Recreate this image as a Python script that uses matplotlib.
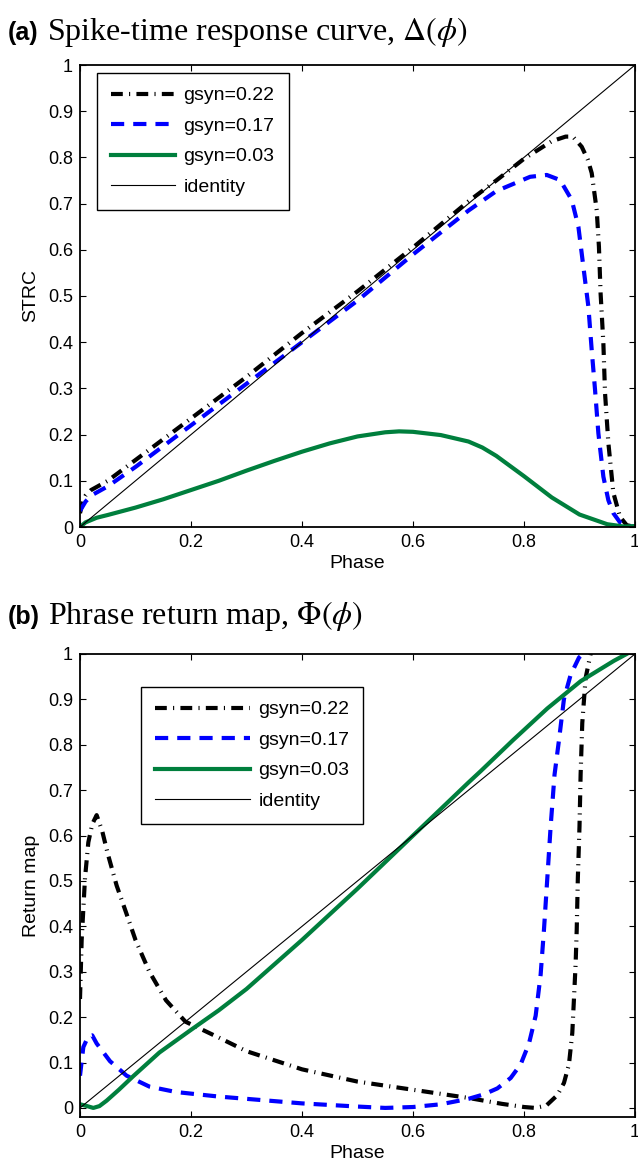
import matplotlib
matplotlib.use("Agg")
from matplotlib import pyplot as plt

plt.rcParams['font.family'] = ['Liberation Sans', 'DejaVu Sans']
plt.rcParams['mathtext.fontset'] = 'stix'
plt.rcParams['lines.scale_dashes'] = False

# colours of the three conductance curves
C_022 = '#000000'
C_017 = '#0000ff'
C_003 = '#007f3d'

# --- panel (a): spike-time response curve ---
a_phase_022 = [0, 0.005, 0.01, 0.02, 0.035, 0.05, 0.1, 0.2, 0.3, 0.4, 0.5, 0.6, 0.7, 0.75, 0.8, 0.85,
               0.875, 0.888, 0.904, 0.915, 0.922, 0.931, 0.935, 0.938, 0.943, 0.946, 0.952, 0.961,
               0.973, 0.985, 1.0]
a_strc_022 = [0.03, 0.055, 0.068, 0.08, 0.09, 0.1, 0.145, 0.235, 0.325, 0.42, 0.51, 0.605, 0.705, 0.75,
              0.797, 0.835, 0.845, 0.845, 0.823, 0.795, 0.766, 0.686, 0.607, 0.506, 0.398, 0.29, 0.182,
              0.074, 0.022, 0.004, 0.0]

a_phase_017 = [0, 0.005, 0.01, 0.02, 0.035, 0.05, 0.1, 0.2, 0.3, 0.4, 0.5, 0.6, 0.7, 0.75, 0.811, 0.841,
               0.865, 0.886, 0.898, 0.907, 0.916, 0.922, 0.928, 0.934, 0.943, 0.952, 0.961, 0.973,
               0.985, 1.0]
a_strc_017 = [0.035, 0.045, 0.055, 0.068, 0.078, 0.088, 0.13, 0.22, 0.31, 0.40, 0.49, 0.59, 0.685, 0.727,
              0.758, 0.762, 0.751, 0.708, 0.65, 0.563, 0.477, 0.383, 0.297, 0.203, 0.109, 0.058, 0.03,
              0.01, 0.002, 0.0]

a_phase_003 = [0, 0.01, 0.03, 0.05, 0.1, 0.15, 0.2, 0.25, 0.3, 0.35, 0.4, 0.45, 0.5, 0.55, 0.575, 0.6,
               0.65, 0.7, 0.725, 0.75, 0.8, 0.85, 0.9, 0.95, 0.98, 1.0]
a_strc_003 = [0, 0.01, 0.02, 0.026, 0.042, 0.06, 0.08, 0.1, 0.122, 0.143, 0.163, 0.181, 0.196, 0.205,
              0.207, 0.206, 0.199, 0.185, 0.172, 0.154, 0.11, 0.064, 0.027, 0.006, 0.001, 0.002]

# --- panel (b): phase return map ---
b_phase_022 = [0, 0.003, 0.009, 0.015, 0.022, 0.03, 0.04, 0.05, 0.066, 0.084, 0.1, 0.125, 0.155, 0.19,
               0.25, 0.3, 0.4, 0.5, 0.6, 0.7, 0.76, 0.8, 0.82, 0.84, 0.86, 0.872, 0.881, 0.887, 0.89,
               0.893, 0.895, 0.897, 0.9, 0.902, 0.905, 0.911, 0.92, 0.93]
b_map_022 = [0.24, 0.37, 0.506, 0.585, 0.625, 0.645, 0.61, 0.56, 0.49, 0.427, 0.37, 0.30, 0.237, 0.19,
             0.155, 0.125, 0.085, 0.058, 0.04, 0.022, 0.009, 0.002, 0.0, 0.005, 0.028, 0.055, 0.096,
             0.165, 0.24, 0.317, 0.393, 0.506, 0.62, 0.734, 0.848, 0.947, 1.0, 1.03]

b_phase_017 = [0, 0.006, 0.015, 0.022, 0.03, 0.054, 0.084, 0.125, 0.173, 0.25, 0.3, 0.4, 0.5, 0.55, 0.6,
               0.65, 0.7, 0.728, 0.752, 0.776, 0.794, 0.809, 0.821, 0.83, 0.836, 0.842, 0.848, 0.855,
               0.863, 0.872, 0.884, 0.899, 0.914]
b_map_017 = [0.071, 0.134, 0.158, 0.16, 0.142, 0.103, 0.071, 0.047, 0.035, 0.025, 0.02, 0.01, 0.003, 0.0,
             0.002, 0.008, 0.02, 0.03, 0.043, 0.066, 0.096, 0.142, 0.203, 0.294, 0.393, 0.506, 0.62,
             0.734, 0.81, 0.901, 0.954, 0.992, 1.01]

b_phase_003 = [0, 0.01, 0.024, 0.035, 0.048, 0.07, 0.096, 0.143, 0.2, 0.25, 0.3, 0.4, 0.5, 0.6, 0.7,
               0.722, 0.78, 0.842, 0.902, 0.962, 1.0]
b_map_003 = [0.008, 0.005, 0.0, 0.004, 0.016, 0.04, 0.07, 0.122, 0.172, 0.215, 0.262, 0.37, 0.483, 0.6,
             0.717, 0.742, 0.81, 0.88, 0.94, 0.985, 1.01]

identity = [0, 1]
labels = ['gsyn=0.22', 'gsyn=0.17', 'gsyn=0.03', 'identity']
ticks = [0, 0.1, 0.2, 0.3, 0.4, 0.5, 0.6, 0.7, 0.8, 0.9, 1]
xticks = [0, 0.2, 0.4, 0.6, 0.8, 1]

fig = plt.figure(figsize=(6.38, 11.7), dpi=100)
W, H = 638, 1170
ax1 = fig.add_axes([80 / W, (H - 527) / H, 555 / W, 462 / H])
ax2 = fig.add_axes([80 / W, (H - 1117) / H, 555 / W, 463 / H])

dashdot = (0, (8.5, 4.5, 0.8, 4.5))
dashed = (0, (9.5, 6.5))


def draw_panel(ax, ph22, v22, ph17, v17, ph03, v03):
    ax.plot(ph22, v22, color=C_022, lw=3.0, linestyle=dashdot, label=labels[0])
    ax.plot(ph17, v17, color=C_017, lw=3.0, linestyle=dashed, label=labels[1])
    ax.plot(ph03, v03, color=C_003, lw=3.0, label=labels[2])
    ax.plot(identity, identity, color='black', lw=0.8, label=labels[3])
    ax.set_xlim(0, 1)
    ax.set_xticks(xticks)
    ax.set_xticklabels(['0', '0.2', '0.4', '0.6', '0.8', '1'])
    ax.set_yticks(ticks)
    ax.set_yticklabels(['0', '0.1', '0.2', '0.3', '0.4', '0.5', '0.6', '0.7', '0.8', '0.9', '1'])
    ax.tick_params(direction='in', top=True, right=True, length=4, width=0.8, labelsize=13, pad=5)
    for s in ax.spines.values():
        s.set_linewidth(1.3)
    ax.set_xlabel('Phase', fontsize=14, labelpad=3)


def add_legend(ax, anchor, hlen):
    leg = ax.legend(loc='upper left', bbox_to_anchor=anchor, borderaxespad=0, fontsize=14,
                    handlelength=hlen, handletextpad=0.42, labelspacing=0.66, borderpad=0.72,
                    fancybox=False, framealpha=1, edgecolor='black')
    leg.get_frame().set_linewidth(1.0)


draw_panel(ax1, a_phase_022, a_strc_022, a_phase_017, a_strc_017, a_phase_003, a_strc_003)
ax1.set_ylim(0, 1)
ax1.set_ylabel('STRC', fontsize=14, labelpad=6)
add_legend(ax1, (0.031, 0.983), 3.3)

draw_panel(ax2, b_phase_022, b_map_022, b_phase_017, b_map_017, b_phase_003, b_map_003)
ax2.set_ylim(-0.02, 1)
ax2.set_ylabel('Return map', fontsize=14, labelpad=6)
add_legend(ax2, (0.11, 0.929), 4.9)

# titles: bold sans panel letter followed by serif text
fig.canvas.draw()
renderer = fig.canvas.get_renderer()
for letter, rest, base in [('(a)', r' Spike-time response curve, $\Delta(\phi)$', 40),
                           ('(b)', r' Phrase return map, $\Phi(\phi)$', 624)]:
    t = fig.text(8 / W, (H - base) / H, letter, fontsize=18, fontweight='bold', va='baseline')
    bb = t.get_window_extent(renderer)
    fig.text(bb.x1 / W, (H - base) / H, rest, fontsize=23, family='Liberation Serif', va='baseline')

fig.savefig('out.png', dpi=100)
